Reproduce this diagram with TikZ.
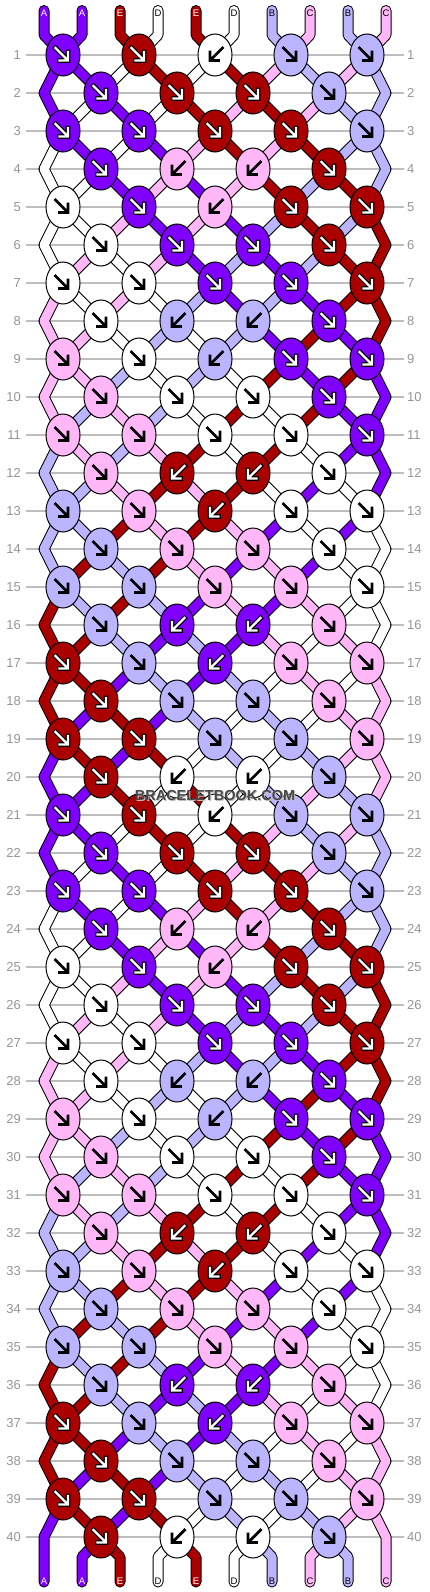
\documentclass[tikz,border=0pt]{standalone}
\usepackage{fontspec}
\setmainfont{Liberation Sans}
\usetikzlibrary{shapes.geometric}

\definecolor{colA}{RGB}{128,0,255}
\definecolor{colB}{RGB}{187,181,255}
\definecolor{colC}{RGB}{255,183,248}
\definecolor{colD}{RGB}{255,255,255}
\definecolor{colE}{RGB}{170,0,0}
\definecolor{rulegray}{RGB}{190,190,190}
\definecolor{numgray}{RGB}{150,150,150}

\pgfdeclarelayer{background}
\pgfdeclarelayer{strands}
\pgfsetlayers{background,strands,main}

\newcommand\putst[2]{\expandafter\xdef\csname st#1\endcsname{#2}}
\newcommand\putid[2]{\expandafter\xdef\csname id#1\endcsname{#2}}
\newcommand\knotarrow[2]{\draw[line width=#1, #2, line cap=rect, line join=miter]
  ({-7.5*\sg},-7) -- ({4*\sg},4.5) ({5*\sg},-3) -- ({5*\sg},5.5) -- ({-3.5*\sg},5.5);}

\tikzset{
  knot/.style={ellipse, draw=black, line width=1pt, minimum width=34pt, minimum height=42pt, inner sep=0pt},
  rowline/.style={rulegray, line width=1.2pt, shorten <=5pt, shorten >=3pt},
  rownum/.style={numgray, font=\fontsize{13}{13}\selectfont, inner sep=0pt},
  strandedge/.style={black, line width=11pt, line cap=round, line join=round},
  strandfill/.style={line width=9pt, line cap=round, line join=round},
  tag/.style={font=\fontsize{9.5}{10}\selectfont, inner sep=0pt},
  stamp/.style={font=\bfseries\fontsize{14.5}{14.5}\selectfont, inner sep=0pt}
}

\begin{document}
\begin{tikzpicture}[x=1pt, y=-1pt]
\useasboundingbox (0,0) rectangle (430,1592);
\begin{pgfonlayer}{background}
\fill[white] (0,0) rectangle (430,1592);
\foreach \rw in {1,...,40}{
  \pgfmathtruncatemacro\ry{55+38*(\rw-1)}
  \node[rownum, anchor=east] (nl\rw) at (21,\ry) {\rw};
  \node[rownum, anchor=west] (nr\rw) at (407,\ry) {\rw};
  \draw[rowline] (nl\rw.east) -- (nr\rw.west);
}
\end{pgfonlayer}

\foreach \sn/\tn in {0/A,1/A,2/E,3/D,4/E,5/D,6/B,7/C,8/B,9/C}{
  \putst{\sn}{\tn}\putid{\sn}{\sn}\expandafter\xdef\csname tone\sn\endcsname{\tn}}

\foreach \rw in {1,...,40}{
  \pgfmathtruncatemacro\ry{55+38*(\rw-1)}
  \pgfmathtruncatemacro\ph{mod(\rw,4)}
  \ifodd\rw\relax \def\nk{4}\def\xo{63}\def\so{0}\else \def\nk{3}\def\xo{101}\def\so{1}\fi
  \foreach \kn in {0,...,\nk}{
    \pgfmathtruncatemacro\ls{\so+2*\kn}
    \pgfmathtruncatemacro\rs{\ls+1}
    \pgfmathtruncatemacro\kx{\xo+76*\kn}
    \def\dir{f}
    \ifnum\ph=1 \ifnum\kn=2 \def\dir{b}\fi\fi
    \ifnum\ph=0 \ifnum\kn=1 \def\dir{b}\fi\ifnum\kn=2 \def\dir{b}\fi\fi
    \if b\dir \edef\kc{\csname st\rs\endcsname}\def\sg{-1}\else \edef\kc{\csname st\ls\endcsname}\def\sg{1}\fi
    \node[knot, fill=col\kc] (k\rw-\kn) at (\kx,\ry) {};
    \begin{scope}[shift={(\kx,\ry)}]
      \if A\kc \knotarrow{4.6pt}{black}\knotarrow{2.4pt}{white}%
      \else\if E\kc \knotarrow{4.6pt}{black}\knotarrow{2.4pt}{white}%
      \else \knotarrow{2.8pt}{black}\fi\fi
    \end{scope}
    \edef\il{\csname id\ls\endcsname}\edef\ir{\csname id\rs\endcsname}
    \coordinate (p\il-\rw) at (k\rw-\kn.center);
    \coordinate (p\ir-\rw) at (k\rw-\kn.center);
    \edef\tl{\csname st\ls\endcsname}\edef\tr{\csname st\rs\endcsname}
    \putst{\ls}{\tr}\putst{\rs}{\tl}
    \putid{\ls}{\ir}\putid{\rs}{\il}
  }
  \ifodd\rw\relax\else
    \edef\il{\csname id0\endcsname}\edef\ir{\csname id9\endcsname}
    \coordinate (p\il-\rw) at (44,\ry);
    \coordinate (p\ir-\rw) at (386,\ry);
  \fi
}

\foreach \sn in {0,...,9}{\edef\ids{\csname id\sn\endcsname}\expandafter\xdef\csname fin\ids\endcsname{\sn}}

\begin{pgfonlayer}{strands}
\foreach \sn in {0,...,9}{
  \pgfmathtruncatemacro\sx{44+38*\sn}
  \edef\fs{\csname fin\sn\endcsname}
  \pgfmathtruncatemacro\fx{44+38*\fs}
  \draw[strandedge] (\sx,10.5) -- (\sx,35) \foreach \rw in {1,...,40}{-- (p\sn-\rw)} -- (\fx,1557) -- (\fx,1582);
}
\foreach \sn in {0,...,9}{
  \pgfmathtruncatemacro\sx{44+38*\sn}
  \edef\fs{\csname fin\sn\endcsname}
  \pgfmathtruncatemacro\fx{44+38*\fs}
  \edef\tn{\csname tone\sn\endcsname}
  \draw[strandfill, draw=col\tn] (\sx,10.5) -- (\sx,35) \foreach \rw in {1,...,40}{-- (p\sn-\rw)} -- (\fx,1557) -- (\fx,1582);
}
\end{pgfonlayer}

\foreach \sn in {0,...,9}{
  \pgfmathtruncatemacro\sx{44+38*\sn}
  \edef\fs{\csname fin\sn\endcsname}
  \pgfmathtruncatemacro\fx{44+38*\fs}
  \edef\tn{\csname tone\sn\endcsname}
  \def\tc{black}\if A\tn\def\tc{white}\fi\if E\tn\def\tc{white}\fi
  \node[tag, text=\tc] (top\sn) at (\sx,13) {\tn};
  \node[tag, text=\tc] (bot\sn) at (\fx,1581) {\tn};
}

\node[stamp, text=black!25] (stampshade) at (216,796) {BRACELETBOOK.COM};
\node[stamp, text=black!72] (stamp) at (215,795) {BRACELETBOOK.COM};
\end{tikzpicture}
\end{document}
